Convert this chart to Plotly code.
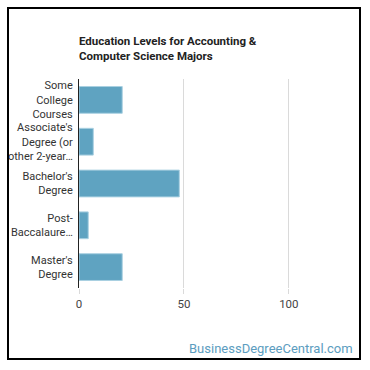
import plotly.graph_objects as go

categories = ["Some<br>College<br>Courses", "Associate's<br>Degree (or<br>other 2-year…",
              "Bachelor's<br>Degree", "Post-<br>Baccalaure…", "Master's<br>Degree"]
values = [20.6, 6.8, 47.8, 4.4, 20.6]
x_ticks = [0, 50, 100]

W, H = 370, 370
ml, mr, mt, mb = 79, 35, 79, 82
pw, ph = W - ml - mr, H - mt - mb

fig = go.Figure(go.Bar(
    x=values, y=categories, orientation="h",
    marker=dict(color="#5FA3C1", line=dict(color="#A9D0E1", width=1)),
    width=0.64,
))

def px_x(p):
    return (p - ml) / pw

def px_y(p):
    return 1 - (p - mt) / ph

fig.update_layout(
    width=W, height=H,
    margin=dict(l=ml, r=mr, t=mt, b=mb, autoexpand=False),
    paper_bgcolor="white", plot_bgcolor="white",
    font=dict(family="Roboto", size=11, color="#333"),
    title=dict(text="<b>Education Levels for Accounting &<br>Computer Science Majors</b>",
               x=ml / W, xanchor="left", y=1 - 45 / H, yanchor="top",
               font=dict(family="Roboto", size=11.5, color="#222")),
    showlegend=False,
    xaxis=dict(range=[0, 122], tickvals=x_ticks, gridcolor="#DADADA", gridwidth=1,
               zeroline=False, showline=False, ticks="outside", ticklen=5,
               tickcolor="#DADADA", tickfont=dict(size=11.5, color="#444"), automargin=False),
    yaxis=dict(autorange="reversed", showline=True, linecolor="#222", linewidth=1,
               ticks="", ticklabelstandoff=3, tickfont=dict(size=11, color="#333"),
               automargin=False),
    shapes=[dict(type="rect", xref="paper", yref="paper",
                 x0=px_x(8), x1=px_x(360), y0=px_y(8), y1=px_y(359),
                 line=dict(color="black", width=2), fillcolor="rgba(0,0,0,0)")],
    annotations=[dict(text="BusinessDegreeCentral.com", xref="paper", yref="paper",
                      x=px_x(355), y=px_y(348), xanchor="right", yanchor="middle",
                      showarrow=False, font=dict(family="Roboto", size=13, color="#5C9DC0"))],
)

fig.write_html("out.html")
